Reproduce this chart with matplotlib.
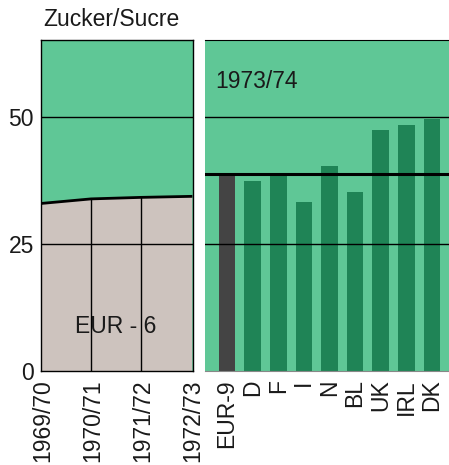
import numpy as np
import matplotlib.pyplot as plt

plt.rcParams['font.family'] = ['Liberation Sans', 'DejaVu Sans']

# datos
jahre = ['1969/70', '1970/71', '1971/72', '1972/73']
eur6 = [33.0, 33.9, 34.2, 34.4]
laender = ['EUR-9', 'D', 'F', 'I', 'N', 'BL', 'UK', 'IRL', 'DK']
werte = [38.9, 37.4, 38.5, 33.3, 40.3, 35.2, 47.5, 48.5, 49.7]
eur9 = 38.9
yticks = [0, 25, 50]

gruen = '#5fc796'
dunkel = '#1f8456'
beige = '#cdc3be'
grau = '#444444'
txt = '#1a1a1a'
fs = 16.5

fig = plt.figure(figsize=(4.49, 4.65), dpi=100)

# panel izquierdo
ax1 = fig.add_axes([41/449, 1-371/465, 152/449, 331/465])
x = np.arange(len(jahre))
ax1.set_facecolor(gruen)
ax1.fill_between(x, 0, eur6, color=beige, zorder=1)
ax1.plot(x, eur6, color='black', lw=2, zorder=3)
for i in x[1:-1]:
    ax1.plot([i, i], [0, eur6[i]], color='black', lw=1, zorder=2)
for yv in [25, 50]:
    ax1.axhline(yv, color='black', lw=1, zorder=2)
ax1.set_xlim(0, 3)
ax1.set_ylim(0, 65.2)
ax1.set_yticks(yticks)
ax1.set_yticklabels([str(v) for v in yticks], fontsize=fs, color=txt)
ax1.set_xticks(x + 0.04)
ax1.set_xticklabels(jahre, rotation=90, fontsize=fs, color=txt)
ax1.tick_params(axis='x', length=0, pad=6)
ax1.tick_params(axis='y', length=0, pad=5)
for s in ax1.spines.values():
    s.set_linewidth(1)
ax1.text(1.5, 8.8, 'EUR - 6', ha='center', va='center', fontsize=fs, color=txt)
fig.text(43/449, 1-19/465, 'Zucker/Sucre', ha='left', va='center', fontsize=fs, color=txt)

# panel derecho
ax2 = fig.add_axes([205/449, 1-371/465, 244/449, 331/465])
ax2.set_facecolor(gruen)
xi = np.arange(len(laender))
farben = [grau] + [dunkel]*(len(laender)-1)
ax2.bar(xi, werte, width=0.65, color=farben, zorder=2)
for yv in [25, 50]:
    ax2.axhline(yv, color='black', lw=1, zorder=3)
ax2.axhline(eur9, color='black', lw=2.2, zorder=3)
ax2.set_xlim(-0.86, 8.67)
ax2.set_ylim(0, 65.2)
ax2.set_yticks([])
ax2.set_xticks(xi)
ax2.set_xticklabels(laender, rotation=90, fontsize=fs, color=txt)
ax2.tick_params(length=0, pad=6)
ax2.spines['left'].set_visible(False)
ax2.spines['right'].set_visible(False)
ax2.spines['bottom'].set_color('#888888')
ax2.text(-0.45, 57, '1973/74', ha='left', va='center', fontsize=fs, color=txt)

fig.savefig('out.png', dpi=100)
